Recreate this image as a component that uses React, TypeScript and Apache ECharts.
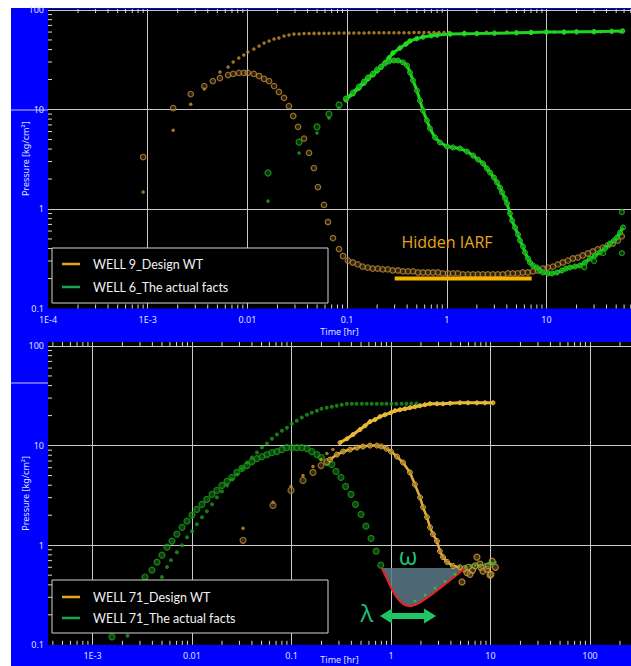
import React, { useEffect, useRef } from "react";
import * as echarts from "echarts";

type Pt = [number, number];

// ---------- axes ----------
const TIME_DECADES = [-4, -3, -2, -1, 0, 1, 2];
const TIME_LABELS = ["1E-4", "1E-3", "0.01", "0.1", "1", "10", "100"];
const PRESSURE_DECADES = [-1, 0, 1, 2];
const PRESSURE_LABELS = ["0.1", "1", "10", "100"];
const MINOR_STEPS = [2, 3, 4, 5, 6, 7, 8, 9];

const TOP_LEGEND = ["WELL 9_Design WT", "WELL 6_The actual facts"];
const BOTTOM_LEGEND = ["WELL 71_Design WT", "WELL 71_The actual facts"];

// ---------- top panel data: [time hr, pressure kg/cm2] ----------
const well9Pressure: Pt[] = [
  [0.0009, 1.48], [0.0018, 6.2], [0.0027, 11.3], [0.0037, 16.1], [0.0053, 23.8], [0.0064, 26.7],
  [0.0072, 30.0], [0.0082, 33.0], [0.0092, 35.3], [0.0101, 37.8], [0.0116, 40.6], [0.0131, 43.5],
  [0.0147, 46.6], [0.0165, 48.8], [0.0185, 51.2], [0.0207, 52.4], [0.0233, 54.8], [0.0261, 56.1],
  [0.0293, 57.4], [0.033, 57.4], [0.037, 58.0], [0.0415, 58.0], [0.0466, 58.2], [0.0523, 58.2],
  [0.0587, 58.4], [0.0658, 58.4], [0.0739, 58.4], [0.083, 58.6], [0.0931, 58.6], [0.1045, 58.6],
  [0.117, 58.8], [0.1315, 58.8], [0.148, 58.8], [0.166, 59], [0.186, 59], [0.209, 59], [0.234, 59],
  [0.263, 59], [0.295, 59.2], [0.331, 59.2], [0.372, 59.2], [0.418, 59.2], [0.469, 59.4], [0.526, 59.4],
  [0.59, 59.4], [0.662, 59.4], [0.744, 59.4], [0.835, 59.5], [0.937, 59.5], [1.052, 59.5], [1.5, 59.6],
  [2.5, 59.8], [4, 60], [7, 60], [12, 60.2], [20, 60.3], [35, 60.5], [55, 60.6],
];
const well9Derivative: Pt[] = [
  [0.0009, 3.33], [0.0018, 10.3], [0.0027, 14.3], [0.0037, 17.2], [0.0045, 19.3], [0.0053, 20.7],
  [0.0064, 22.2], [0.0072, 22.8], [0.0082, 23.3], [0.0092, 23.3], [0.0101, 23.3], [0.0116, 22.8],
  [0.0131, 21.7], [0.0147, 20.3], [0.0165, 19.3], [0.0185, 17.2], [0.0207, 15.0], [0.0233, 13.1],
  [0.0261, 10.8], [0.0288, 8.6], [0.0322, 6.7], [0.037, 5.1], [0.0415, 3.66], [0.0465, 2.58],
  [0.051, 1.66], [0.0586, 1.1], [0.0643, 0.74], [0.0722, 0.51], [0.083, 0.396], [0.091, 0.337],
  [0.102, 0.303], [0.114, 0.29], [0.128, 0.277], [0.143, 0.264], [0.161, 0.258], [0.181, 0.252],
  [0.203, 0.252], [0.228, 0.247], [0.256, 0.247], [0.287, 0.241], [0.324, 0.241], [0.364, 0.236],
  [0.408, 0.236], [0.458, 0.236], [0.514, 0.23], [0.577, 0.23], [0.648, 0.23], [0.727, 0.23],
  [0.816, 0.23], [0.916, 0.225], [1.028, 0.225], [1.153, 0.225], [1.294, 0.225], [1.452, 0.22],
  [1.63, 0.22], [1.83, 0.22], [2.05, 0.22], [2.3, 0.22], [2.58, 0.22], [2.9, 0.22], [3.25, 0.22],
  [3.65, 0.22], [4.1, 0.225], [4.6, 0.225], [5.16, 0.225], [5.79, 0.23], [6.5, 0.23], [7.3, 0.236],
  [8.19, 0.241], [9.19, 0.252], [10.3, 0.258], [11.6, 0.264], [13, 0.277], [14.6, 0.29], [16.4, 0.303],
  [18.4, 0.318], [20.6, 0.325], [23.1, 0.341], [26, 0.357], [29.2, 0.374], [32.7, 0.392], [36.7, 0.41],
  [41.2, 0.43], [46.3, 0.45], [51.9, 0.482], [56.9, 0.531],
];
const well6EarlyPressure: Pt[] = [[0.0161, 1.2], [0.033, 3.66], [0.0499, 5.8], [0.0658, 8.2], [0.083, 10.4]];
const well6EarlyDerivative: Pt[] = [[0.0161, 2.3], [0.033, 4.7], [0.0499, 6.7], [0.0658, 9.0], [0.083, 11.1]];
const well6Pressure: Pt[] = [
  [0.0975, 12.5], [0.1146, 14.4], [0.1315, 16.4], [0.148, 18.4], [0.162, 20.3], [0.182, 22.3],
  [0.2, 24.4], [0.219, 26.5], [0.24, 29.5], [0.263, 33], [0.288, 37], [0.339, 41.5], [0.39, 45.5],
  [0.427, 48.8], [0.5, 51.5], [0.577, 53.6], [0.7, 55.2], [0.8, 56.1], [1.08, 57.4], [1.5, 57.8],
  [2, 58], [3, 58.5], [5, 59], [7, 59.5], [10, 60], [15, 60], [20, 60.3], [30, 60.5], [45, 61], [58, 61.5],
];
const well6Derivative: Pt[] = [
  [0.0975, 12.9], [0.1146, 14.8], [0.1315, 17.0], [0.148, 19.1], [0.162, 21.0], [0.182, 23.0],
  [0.2, 25.2], [0.219, 27.0], [0.24, 29.0], [0.263, 30.4], [0.295, 31.1], [0.324, 31.1], [0.364, 29.7],
  [0.399, 27.7], [0.428, 23.5], [0.458, 19.6], [0.502, 15.5], [0.538, 12.3], [0.577, 9.77],
  [0.632, 7.75], [0.678, 6.44], [0.762, 5.23], [0.855, 4.66], [1.005, 4.25], [1.153, 4.15],
  [1.355, 4.06], [1.595, 3.78], [1.832, 3.45], [2.056, 3.14], [2.307, 2.87], [2.53, 2.55], [2.71, 2.33],
  [2.97, 2.07], [3.19, 1.85], [3.42, 1.64], [3.58, 1.47], [3.84, 1.28], [4.02, 1.14], [4.3, 0.9],
  [4.51, 0.766], [4.83, 0.652], [5.18, 0.554], [5.42, 0.482], [5.81, 0.42], [6.08, 0.366],
  [6.52, 0.318], [6.83, 0.29], [7.32, 0.27], [8.03, 0.258], [8.6, 0.241], [9.22, 0.23], [10.35, 0.225],
  [11.35, 0.225], [12.7, 0.23], [14.3, 0.241], [15.7, 0.252], [17.2, 0.258], [19.3, 0.264],
  [21.7, 0.27], [24.3, 0.29], [27.3, 0.318], [30.6, 0.341], [34.4, 0.366], [38.6, 0.401],
  [43.4, 0.45], [47.5, 0.482], [50.9, 0.518], [54.6, 0.581], [58.5, 0.652],
];
const well6Scatter: Pt[] = [[57, 0.93], [57, 0.36], [24, 0.26], [30, 0.3], [37, 0.36]];
const iarfBar: Pt[] = [[0.3, 0.2], [7.1, 0.2]];

// ---------- bottom panel data ----------
const well71DesignPressureEarly: Pt[] = [
  [0.0326, 1.48], [0.0652, 2.69], [0.0989, 3.89], [0.1305, 5.01], [0.1644, 6.17], [0.198, 7.24],
  [0.227, 8.32], [0.261, 9.12],
];
const well71DesignPressure: Pt[] = [
  [0.307, 10.7], [0.361, 11.7], [0.415, 12.9], [0.488, 14.5], [0.548, 15.8], [0.615, 17.4], [0.69, 18.2],
  [0.774, 19.5], [0.87, 20.4], [1.0, 21.4], [1.097, 22.4], [1.232, 22.9], [1.383, 23.4], [1.552, 24.0],
  [1.742, 24.5], [1.955, 25.1], [2.196, 25.7], [2.466, 26.3], [2.9, 26.3], [3.33, 26.3], [3.92, 26.6],
  [4.93, 26.9], [5.94, 26.9], [7.31, 26.9], [8.81, 26.9], [10.6, 26.9],
];
const well71DesignDerivEarly: Pt[] = [
  [0.0326, 1.12], [0.0652, 2.51], [0.0989, 3.55], [0.1305, 4.47], [0.1644, 5.37], [0.198, 6.31], [0.227, 6.92],
];
const well71DesignDeriv: Pt[] = [
  [0.244, 7.24], [0.286, 8.13], [0.33, 8.71], [0.387, 9.12], [0.455, 9.55], [0.523, 9.77], [0.615, 10],
  [0.723, 10], [0.8, 9.8], [0.9, 9.3], [1.0, 8.71], [1.15, 7.76], [1.32, 6.76], [1.55, 5.37], [1.74, 4.07],
  [1.96, 3.02], [2.1, 2.4], [2.3, 1.91], [2.47, 1.51], [2.64, 1.29], [2.9, 1.1], [3.1, 0.87], [3.33, 0.76],
  [3.66, 0.68], [4.2, 0.617], [4.93, 0.6],
];
const well71DesignDerivLate: Pt[] = [
  [5.17, 0.427], [5.5, 0.58], [5.8, 0.53], [6.0, 0.6], [6.22, 0.51], [6.6, 0.56], [7.0, 0.62], [7.31, 0.76],
  [7.84, 0.646], [8.0, 0.6], [8.4, 0.55], [9.2, 0.575], [9.5, 0.62], [9.9, 0.5], [10.1, 0.51], [10.4, 0.69],
  [11.2, 0.6],
];
const well71ActualPressure: Pt[] = [
  [0.00225, 0.123], [0.00499, 0.479], [0.00561, 0.603], [0.00615, 0.708], [0.00706, 0.851], [0.00794, 1.0],
  [0.00891, 1.2], [0.01, 1.38], [0.0112, 1.62], [0.0126, 1.91], [0.0141, 2.19], [0.0159, 2.57],
  [0.0178, 3.02], [0.02, 3.47], [0.0225, 3.98], [0.0252, 4.57], [0.0283, 5.13], [0.0318, 5.89],
  [0.0357, 6.76], [0.04, 7.59], [0.045, 8.51], [0.0505, 9.55], [0.0567, 10.5], [0.0636, 11.7],
  [0.0714, 12.9], [0.0801, 14.1], [0.09, 15.1], [0.101, 16.6], [0.113, 17.8], [0.127, 19.1], [0.143, 20.4],
  [0.16, 21.4], [0.18, 22.4], [0.2, 23.4], [0.226, 24], [0.254, 24.5], [0.285, 25.1], [0.32, 25.7],
  [0.36, 26.3], [0.404, 26.3], [0.45, 26.3], [0.51, 26.3], [0.57, 26.3], [0.64, 26.3], [0.72, 26.3],
  [0.81, 26.3], [0.9, 26.3], [1.01, 26.3], [1.13, 26.3], [1.28, 26.3], [1.43, 26.3], [1.6, 26.5], [1.8, 26.5],
];
const well71ActualDeriv: Pt[] = [
  [0.00157, 0.12], [0.00337, 0.479], [0.00396, 0.562], [0.00445, 0.676], [0.00499, 0.794], [0.00561, 0.955],
  [0.00629, 1.1], [0.00706, 1.29], [0.00794, 1.51], [0.00891, 1.74], [0.01, 2.0], [0.0112, 2.29],
  [0.0126, 2.57], [0.0141, 2.88], [0.0159, 3.24], [0.0178, 3.55], [0.02, 3.98], [0.0225, 4.37],
  [0.0252, 4.79], [0.0283, 5.37], [0.0318, 5.89], [0.0357, 6.31], [0.04, 6.92], [0.045, 7.41],
  [0.0505, 7.76], [0.0567, 8.13], [0.0636, 8.51], [0.0714, 8.71], [0.0801, 9.12], [0.09, 9.55],
  [0.101, 9.55], [0.113, 9.55], [0.127, 9.55], [0.143, 9.33], [0.16, 8.71], [0.18, 8.13], [0.2, 7.59],
  [0.226, 6.76], [0.254, 6.46], [0.28, 5.5], [0.314, 4.79], [0.35, 3.89], [0.396, 3.24], [0.44, 2.57],
  [0.5, 2.04], [0.56, 1.55], [0.63, 1.17], [0.71, 0.87], [0.79, 0.63],
];
const well71ActualLate: Pt[] = [
  [1.74, 0.275], [2.2, 0.315], [2.77, 0.37], [3.49, 0.435], [4.4, 0.51], [5.54, 0.6], [6.4, 0.62],
  [6.98, 0.63], [7.8, 0.62], [8.8, 0.64], [9.6, 0.65], [10.4, 0.66], [11.2, 0.67],
];
const omegaCurve: Pt[] = [
  [0.81, 0.589], [0.933, 0.437], [1.07, 0.331], [1.23, 0.275], [1.38, 0.251], [1.55, 0.245], [1.82, 0.257],
  [2.2, 0.288], [2.77, 0.339], [3.49, 0.407], [4.4, 0.49], [5.54, 0.589],
];
const omegaTop: Pt[] = [[5.54, 0.589], [0.81, 0.589]];
const lambdaArrow: Pt[] = [[0.89, 0.195], [2.47, 0.195]];

// ---------- layout ----------
const TOP_X: [number, number] = [-4, 1.8475];
const BOT_X: [number, number] = [-3.447, 2.412];
const TOP_Y: [number, number] = [-1, 2.01];
const BOT_Y: [number, number] = [-1, 2.04];

const lg = (pts: Pt[]) => pts.map(([t, p]) => [Math.log10(t), Math.log10(p)]);
const near = (a: number, b: number) => Math.abs(a - b) < 1e-6;
const timeFmt = (v: number) => {
  const i = TIME_DECADES.findIndex((d) => near(d, v));
  return i >= 0 ? TIME_LABELS[i] : "";
};
const presFmt = (v: number) => {
  const i = PRESSURE_DECADES.findIndex((d) => near(d, v));
  return i >= 0 ? PRESSURE_LABELS[i] : "";
};
const minorTicks = (range: [number, number]) => {
  const out: number[] = [];
  TIME_DECADES.forEach((d) =>
    MINOR_STEPS.forEach((s) => {
      const v = d + Math.log10(s);
      if (v > range[0] + 1e-3 && v < range[1] - 1e-3) out.push(v);
    })
  );
  return out;
};

const LABEL_COLOR = "#dfe2ff";
const FONT = "Noto Sans";

function tickSeries(gi: number, xr: [number, number], yr: [number, number]) {
  const data = [
    ...minorTicks(xr).map((v) => [v, yr[0], 0]),
    ...minorTicks(yr).map((v) => [xr[0], v, 1]),
  ];
  return {
    type: "custom",
    xAxisIndex: gi,
    yAxisIndex: gi,
    silent: true,
    clip: false,
    z: 6,
    data,
    renderItem: (_p: any, api: any) => {
      const kind = api.value(2);
      const style = { stroke: "#d8d8d8", lineWidth: 1 };
      if (kind === 0) {
        const x = api.value(0);
        const b = api.coord([x, yr[0]]);
        const t = api.coord([x, yr[1]]);
        return {
          type: "group",
          children: [
            { type: "line", shape: { x1: b[0], y1: b[1], x2: b[0], y2: b[1] - 4 }, style },
            { type: "line", shape: { x1: t[0], y1: t[1], x2: t[0], y2: t[1] + 4 }, style },
          ],
        };
      }
      const p = api.coord([xr[0], api.value(1)]);
      return { type: "line", shape: { x1: p[0], y1: p[1], x2: p[0] + 4, y2: p[1] }, style };
    },
  };
}

const dots = (gi: number, data: Pt[], color: string, size: number, z = 3) => ({
  type: "scatter", xAxisIndex: gi, yAxisIndex: gi, data: lg(data), symbol: "circle",
  symbolSize: size, itemStyle: { color }, z, silent: true,
});
const rings = (gi: number, data: Pt[], stroke: string, fill: string, size: number, z = 3) => ({
  type: "scatter", xAxisIndex: gi, yAxisIndex: gi, data: lg(data), symbol: "circle",
  symbolSize: size, itemStyle: { color: fill, borderColor: stroke, borderWidth: 1.2 }, z, silent: true,
});
const chain = (gi: number, data: Pt[], color: string, fill: string, size: number, width: number, z = 4) => ({
  type: "line", xAxisIndex: gi, yAxisIndex: gi, data: lg(data), symbol: "circle", symbolSize: size,
  showSymbol: true, lineStyle: { color, width }, itemStyle: { color: fill, borderColor: color, borderWidth: 1 },
  z, silent: true,
});

function xAxisFor(gi: number, r: [number, number], gap: number) {
  return {
    type: "value", gridIndex: gi, min: r[0], max: r[1], splitNumber: 5,
    axisLine: { show: false }, axisTick: { show: false },
    splitLine: { show: true, showMinLine: false, showMaxLine: false, lineStyle: { color: "#c8c8c8", width: 1 } },
    axisLabel: { formatter: timeFmt, color: LABEL_COLOR, fontSize: 9, margin: 6, fontFamily: FONT },
    name: "Time [hr]", nameLocation: "middle", nameGap: gap, nameMoveOverlap: false,
    nameTextStyle: { color: LABEL_COLOR, fontSize: 9, fontFamily: FONT },
  };
}
function yAxisFor(gi: number, r: [number, number]) {
  return {
    type: "value", gridIndex: gi, min: r[0], max: r[1], interval: 1,
    axisLine: { show: false }, axisTick: { show: false },
    splitLine: { show: true, showMinLine: false, showMaxLine: false, lineStyle: { color: "#c8c8c8", width: 1 } },
    axisLabel: { formatter: presFmt, color: LABEL_COLOR, fontSize: 9, margin: 4, fontFamily: FONT },
    name: "Pressure [kg/cm²]", nameLocation: "middle", nameGap: 18, nameRotate: 90, nameMoveOverlap: false,
    nameTextStyle: { color: LABEL_COLOR, fontSize: 9, fontFamily: FONT },
  };
}

function legendBox(x: number, y: number, h: number, names: string[], rows: number[]) {
  const colors = ["#e4a51c", "#1aa352"];
  const children: any[] = [
    { type: "rect", shape: { x, y, width: 276, height: h }, style: { fill: "#000", stroke: "#d4d4d4", lineWidth: 1 }, z: 100 },
  ];
  names.forEach((n, i) => {
    children.push({ type: "line", shape: { x1: x + 10, y1: rows[i], x2: x + 28, y2: rows[i] }, style: { stroke: colors[i], lineWidth: 2.5 }, z: 101 });
    children.push({ type: "text", x: x + 41, y: rows[i], style: { text: n, fill: "#f2f2f2", font: `12.5px Lato`, textVerticalAlign: "middle" }, z: 101 });
  });
  return children;
}

export default function App() {
  const ref = useRef<HTMLDivElement>(null);
  useEffect(() => {
    if (!ref.current) return;
    const chart = echarts.init(ref.current, undefined, { renderer: "svg" });
    const areaPts = [...omegaCurve, ...omegaTop];
    const option: any = {
      animation: false,
      backgroundColor: "transparent",
      textStyle: { fontFamily: FONT },
      grid: [
        { left: 48, top: 9, width: 583, height: 299.5, show: true, backgroundColor: "#000", borderWidth: 0, outerBoundsMode: "none", containLabel: false },
        { left: 48, top: 342, width: 583, height: 302.8, show: true, backgroundColor: "#000", borderWidth: 0, outerBoundsMode: "none", containLabel: false },
      ],
      xAxis: [xAxisFor(0, TOP_X, 18), xAxisFor(1, BOT_X, 10)],
      yAxis: [yAxisFor(0, TOP_Y), yAxisFor(1, BOT_Y)],
      series: [
        tickSeries(0, TOP_X, TOP_Y),
        tickSeries(1, BOT_X, BOT_Y),
        // top panel
        dots(0, well9Pressure, "#c8922e", 3.5),
        rings(0, well9Derivative, "#b8883a", "rgba(110,75,25,0.55)", 5.5),
        dots(0, well6EarlyPressure, "#1cb01c", 3.5, 4),
        rings(0, well6EarlyDerivative, "#1cb01c", "rgba(20,110,20,0.55)", 6, 4),
        chain(0, well6Pressure, "#22d422", "rgba(40,220,40,0.8)", 4.5, 3),
        chain(0, well6Derivative, "#22d422", "rgba(20,150,20,0.6)", 5, 3),
        rings(0, well6Scatter, "#1cb01c", "rgba(20,110,20,0.55)", 5, 4),
        { type: "line", xAxisIndex: 0, yAxisIndex: 0, data: lg(iarfBar), symbol: "none", lineStyle: { color: "#f5b400", width: 4 }, z: 5, silent: true },
        // bottom panel
        {
          type: "custom", xAxisIndex: 1, yAxisIndex: 1, silent: true, z: 2, data: [lg([areaPts[0]])[0]],
          renderItem: (_p: any, api: any) => ({
            type: "polygon",
            shape: { points: lg(areaPts).map((p) => api.coord(p)) },
            style: { fill: "rgba(90,122,136,0.85)" },
          }),
        },
        rings(1, well71ActualDeriv, "#1c9c1c", "rgba(25,120,25,0.7)", 6, 3),
        dots(1, well71ActualPressure, "#1c9c1c", 4, 3),
        dots(1, well71DesignPressureEarly, "#c8962e", 3.5, 4),
        rings(1, well71DesignDerivEarly, "#b0843a", "rgba(120,85,30,0.6)", 6, 4),
        chain(1, well71DesignPressure, "#e8b83a", "rgba(232,184,58,0.8)", 4, 3, 4),
        chain(1, well71DesignDeriv, "#e0ae38", "rgba(160,120,40,0.6)", 5, 2.5, 4),
        rings(1, well71DesignDerivLate, "#d0a040", "rgba(140,105,40,0.6)", 6, 4),
        {
          type: "line", xAxisIndex: 1, yAxisIndex: 1, data: lg(omegaCurve), smooth: true, symbol: "none",
          lineStyle: { color: "#e02626", width: 2.2 }, z: 6, silent: true,
          markLine: {
            silent: true, symbol: ["triangle", "triangle"], symbolSize: [15, 12], label: { show: false },
            lineStyle: { color: "#1fc463", width: 6, type: "solid" },
            data: [[{ coord: lg(lambdaArrow)[0] }, { coord: lg(lambdaArrow)[1] }]],
          },
        },
        dots(1, well71ActualLate, "#2ccc2c", 3, 7),
      ],
      graphic: [
        { type: "line", shape: { x1: 11, y1: 110, x2: 48, y2: 110 }, style: { stroke: "#c8caff", lineWidth: 1 } },
        { type: "line", shape: { x1: 11, y1: 383, x2: 48, y2: 383 }, style: { stroke: "#c8caff", lineWidth: 1 } },
        ...legendBox(52, 248, 55, TOP_LEGEND, [264, 287]),
        ...legendBox(52, 580, 53, BOTTOM_LEGEND, [597, 618]),
        { type: "text", x: 447, y: 242, style: { text: "Hidden IARF", fill: "#e8a51e", font: "16px 'Open Sans'", textAlign: "center", textVerticalAlign: "middle" }, z: 50 },
        { type: "text", x: 408, y: 555, style: { text: "ω", fill: "#22c07a", font: "24px 'Open Sans'", textAlign: "center", textVerticalAlign: "middle" }, z: 50 },
        { type: "text", x: 367, y: 612, style: { text: "λ", fill: "#22c07a", font: "24px 'Open Sans'", textAlign: "center", textVerticalAlign: "middle" }, z: 50 },
      ],
    };
    chart.setOption(option);
    return () => chart.dispose();
  }, []);
  return (
    <div style={{ position: "fixed", left: 0, top: 0, width: 631, height: 666, background: "#fff" }}>
      <div style={{ position: "absolute", left: 11, top: 8, right: 0, bottom: 0, background: "#0000ff" }} />
      <div ref={ref} style={{ position: "absolute", left: 0, top: 0, width: 631, height: 666 }} />
    </div>
  );
}
